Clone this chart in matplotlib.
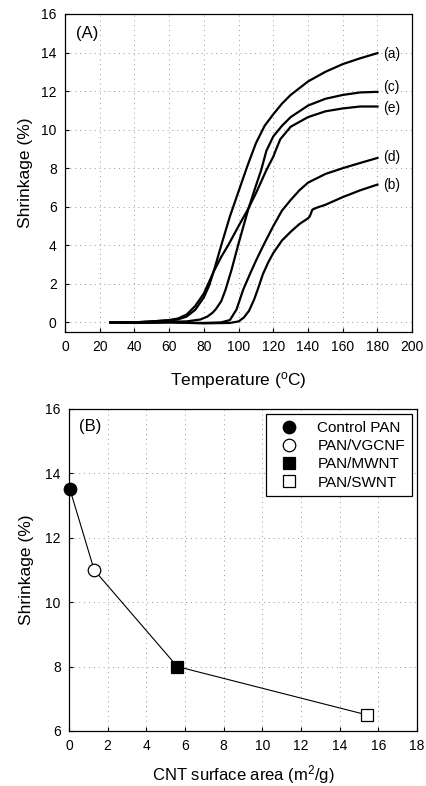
import matplotlib
matplotlib.use('Agg')
import matplotlib.pyplot as plt

plt.rcParams['font.family'] = ['Liberation Sans', 'DejaVu Sans']

# (A) shrinkage vs temperature, curves (a)-(e)
a_T = [26, 40, 50, 60, 65, 70, 75, 80, 83, 86, 90, 95, 100, 105, 110, 115, 120, 125, 130, 140, 150, 160, 170, 180]
a_S = [0, 0, 0.05, 0.1, 0.15, 0.3, 0.65, 1.3, 1.9, 2.75, 4.0, 5.5, 6.8, 8.1, 9.3, 10.2, 10.8, 11.35, 11.8, 12.5, 13.0, 13.4, 13.7, 13.97]

b_T = [26, 40, 60, 80, 95, 100, 103, 106, 109, 111, 114, 117, 120, 125, 130, 135, 140, 141, 142.5, 145, 150, 160, 170, 180]
b_S = [0, -0.03, 0, -0.05, -0.03, 0.05, 0.25, 0.6, 1.2, 1.7, 2.5, 3.1, 3.6, 4.25, 4.7, 5.1, 5.4, 5.5, 5.85, 5.95, 6.1, 6.5, 6.85, 7.15]

c_T = [26, 40, 60, 70, 78, 82, 85, 87, 90, 92.5, 96, 100, 105.5, 110, 113, 116, 120, 125, 130, 140, 150, 160, 170, 180]
c_S = [0, 0, 0.03, 0.05, 0.15, 0.3, 0.5, 0.7, 1.1, 1.7, 2.75, 4.1, 5.85, 7.1, 7.9, 8.9, 9.65, 10.2, 10.65, 11.25, 11.6, 11.8, 11.93, 11.96]

d_T = [26, 40, 60, 80, 90, 95, 98.8, 102.7, 106.5, 110, 114.3, 120, 125, 130, 135, 140, 150, 160, 170, 180]
d_S = [0, -0.03, 0, -0.03, 0, 0.12, 0.67, 1.71, 2.5, 3.2, 4.0, 5.0, 5.8, 6.35, 6.85, 7.25, 7.7, 8.0, 8.27, 8.53]

e_T = [26, 40, 50, 60, 65, 70, 75, 80, 86, 90, 94, 100, 105, 110, 116, 120, 121.5, 124, 130, 140, 150, 160, 170, 180]
e_S = [0, 0, 0.05, 0.12, 0.2, 0.4, 0.85, 1.5, 2.7, 3.4, 4.0, 5.0, 5.8, 6.7, 7.9, 8.6, 8.95, 9.5, 10.15, 10.65, 10.95, 11.1, 11.2, 11.2]

curve_names = ['(a)', '(c)', '(e)', '(d)', '(b)']
label_y = [13.95, 12.2, 11.1, 8.6, 7.15]

# (B) shrinkage vs CNT surface area
samples = ['Control PAN', 'PAN/VGCNF', 'PAN/MWNT', 'PAN/SWNT']
area = [0.05, 1.3, 5.6, 15.4]
shrink = [13.5, 11.0, 8.0, 6.5]

fig = plt.figure(figsize=(4.26, 7.86), dpi=100)
ax1 = fig.add_axes([0.1526, 0.5776, 0.815, 0.4046])
ax2 = fig.add_axes([0.162, 0.070, 0.817, 0.4097])

grid_kw = dict(color='#999999', linestyle=(0, (1, 4)), linewidth=0.7)

# ---- panel A
for T, S in [(a_T, a_S), (b_T, b_S), (c_T, c_S), (d_T, d_S), (e_T, e_S)]:
    ax1.plot(T, S, color='k', linewidth=1.6)
for name, y in zip(curve_names, label_y):
    ax1.text(183.5, y, name, fontsize=10, va='center', ha='left')
ax1.text(0.032, 0.94, '(A)', transform=ax1.transAxes, fontsize=12, va='center')
ax1.set_xlim(0, 200)
ax1.set_ylim(-0.5, 16)
ax1.set_xticks(range(0, 201, 20))
ax1.set_yticks(range(0, 17, 2))
ax1.set_xlabel('Temperature ($\\mathregular{^o}$C)', fontsize=12.5, labelpad=11)
ax1.set_ylabel('Shrinkage (%)', fontsize=12.5, labelpad=6)
ax1.grid(True, **grid_kw)

# ---- panel B
ax2.plot(area, shrink, color='k', linewidth=0.8, zorder=2)
mk = [('o', 'k'), ('o', 'white'), ('s', 'k'), ('s', 'white')]
for (m, fc), xv, yv, lab in zip(mk, area, shrink, samples):
    ax2.plot([xv], [yv], linestyle='none', marker=m, markersize=9 if m == 'o' else 8,
             markerfacecolor=fc, markeredgecolor='k', markeredgewidth=0.9,
             label=lab, zorder=3, clip_on=False)
ax2.text(0.03, 0.944, '(B)', transform=ax2.transAxes, fontsize=12, va='center')
ax2.set_xlim(0, 18)
ax2.set_ylim(6, 16)
ax2.set_xticks(range(0, 19, 2))
ax2.set_yticks(range(6, 17, 2))
ax2.set_xlabel('CNT surface area (m$\\mathregular{^2}$/g)', fontsize=12, labelpad=7)
ax2.set_ylabel('Shrinkage (%)', fontsize=12.5, labelpad=8)
ax2.grid(True, **grid_kw)
leg = ax2.legend(loc='upper right', fontsize=11, frameon=True, fancybox=False,
                 framealpha=1, edgecolor='k', borderpad=0.45, labelspacing=0.27,
                 handlelength=2.1, handletextpad=0.8, borderaxespad=0.35)
leg.get_frame().set_linewidth(0.9)

for ax in (ax1, ax2):
    ax.tick_params(direction='in', length=3, width=0.8, labelsize=10, pad=6)
    for sp in ax.spines.values():
        sp.set_linewidth(0.9)
    ax.set_axisbelow(True)

plt.savefig('out.png', dpi=100)
